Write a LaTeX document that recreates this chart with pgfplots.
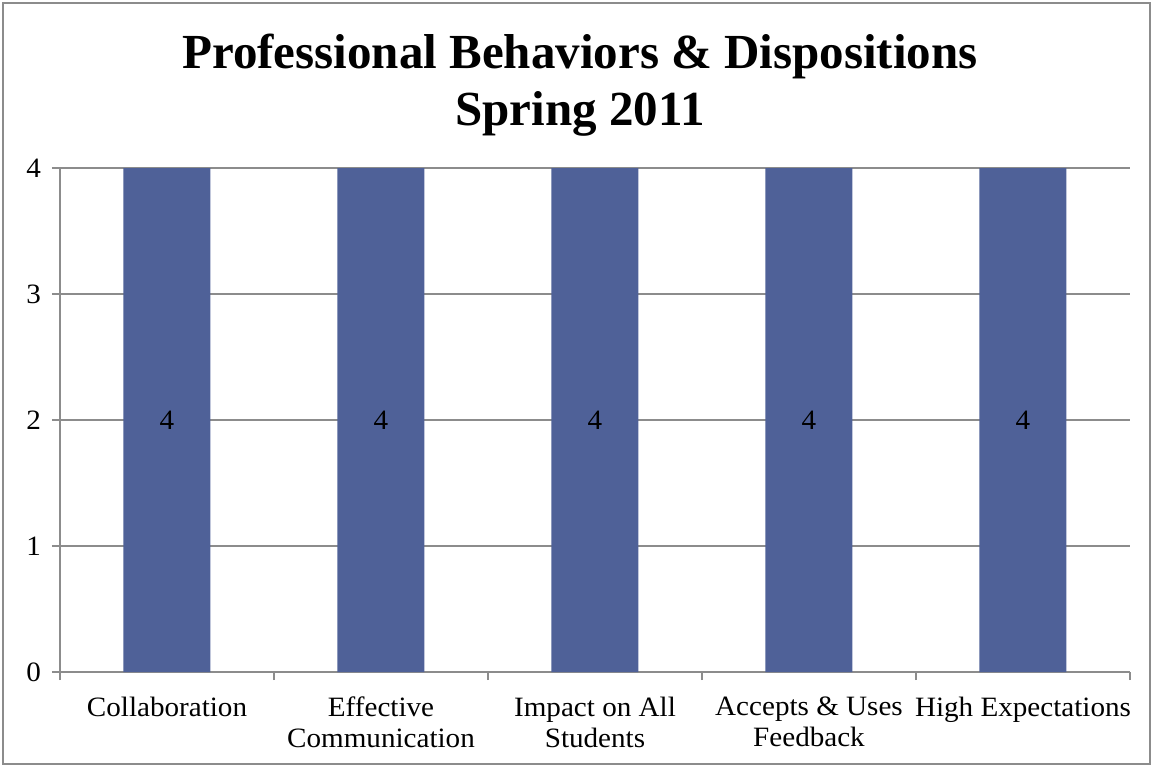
\documentclass[border=0pt]{standalone}
\usepackage{pgfplots}
\pgfplotsset{compat=1.18}
\usepackage{fontspec}
\setmainfont{Liberation Serif}
\newfontfamily\tickfont[FakeStretch=1.04]{Liberation Serif}
\definecolor{barblue}{RGB}{79,97,152}
\definecolor{gridgray}{RGB}{140,140,140}
\begin{document}
\begin{tikzpicture}[x=1pt,y=1pt]
\path[use as bounding box] (0,0) rectangle (576.5,383.5);
\draw[gridgray, line width=0.8pt] (1.5,1.5) rectangle (575,382);
\begin{axis}[
  at={(30pt,47.5pt)}, anchor=south west,
  scale only axis, width=535pt, height=252pt,
  ybar, bar width=43.5pt,
  xmin=-0.5, xmax=4.5, ymin=0, ymax=4,
  xtick={-0.5,0.5,1.5,2.5,3.5,4.5},
  xticklabels={},
  extra x ticks={0,1,2,3,4},
  extra x tick labels={Collaboration, Effective\\Communication, Impact on All\\Students, Accepts \& Uses\\Feedback, High Expectations},
  extra x tick style={major tick length=0pt, grid=none, tick style={draw=none}},
  ytick={0,1,2,3,4},
  ymajorgrids,
  grid style={gridgray, line width=0.8pt},
  axis x line*=bottom, axis y line*=left,
  axis line style={gridgray, line width=0.8pt, -},
  tick align=outside,
  major tick length=4pt,
  tick style={gridgray, line width=0.8pt},
  xticklabel style={align=center, font=\tickfont\fontsize{14}{15.5}\selectfont, yshift=-9pt},
  yticklabel style={font=\tickfont\fontsize{14}{17.5}\selectfont, xshift=-2pt},
  /pgf/number format/assume math mode=true,
  nodes near coords,
  every node near coord/.append style={anchor=center, yshift=-126pt, font=\tickfont\fontsize{14}{15.5}\selectfont, black},
  clip=false,
]
\addplot[fill=barblue, draw=none] coordinates {(0,4) (1,4) (2,4) (3,4) (4,4)};
\end{axis}
\node[anchor=base, font=\bfseries\fontsize{24.5}{28}\selectfont] at (290,349) {Professional Behaviors \& Dispositions};
\node[anchor=base, font=\bfseries\fontsize{24.5}{28}\selectfont] at (290,320.5) {Spring 2011};
\end{tikzpicture}
\end{document}
